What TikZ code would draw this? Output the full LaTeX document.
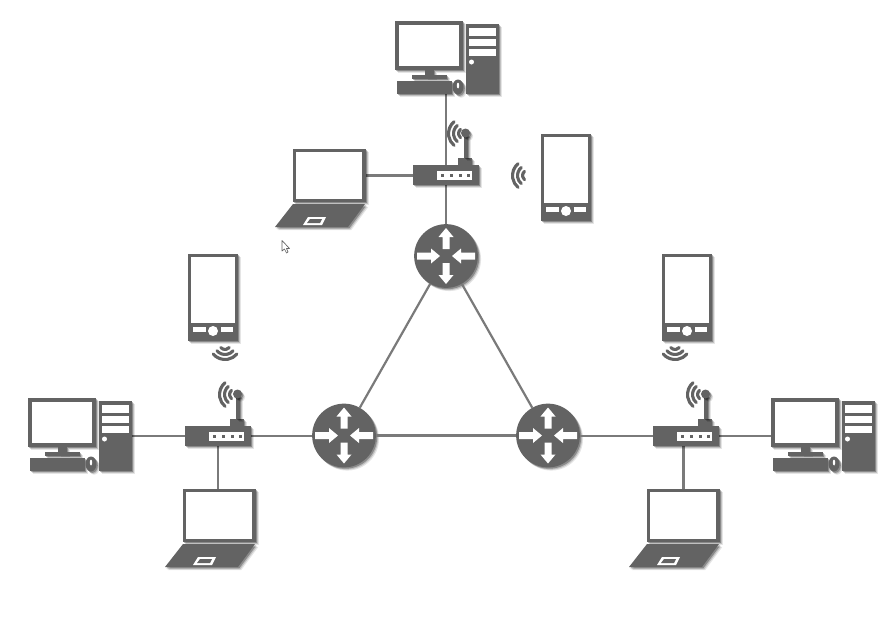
\documentclass[tikz,border=0pt]{standalone}
\usetikzlibrary{shadows}
\definecolor{icon}{HTML}{636363}
\definecolor{wire}{HTML}{7A7A7A}
\tikzset{
  softshadow/.style={drop shadow={shadow xshift=2.4pt,shadow yshift=-2.4pt,opacity=.10,fill=black},
                     drop shadow={shadow xshift=1.7pt,shadow yshift=-1.7pt,opacity=.16,fill=black},
                     drop shadow={shadow xshift=1pt,shadow yshift=-1pt,opacity=.28,fill=black}},
  body/.style={fill=icon,draw=none,softshadow},
  plain/.style={fill=icon,draw=none},
  hole/.style={fill=white,draw=none},
  wirel/.style={draw=wire,line width=1.65pt},
  anchorbox/.style={draw=none,inner sep=0pt,outer sep=0pt},
  deskbox/.style={anchorbox,minimum width=78pt,minimum height=54.75pt},
  lapbox/.style={anchorbox,minimum width=54.75pt,minimum height=39.75pt},
  phonebox/.style={anchorbox,minimum width=37.5pt,minimum height=65.25pt},
  swbox/.style={anchorbox,minimum width=49.5pt,minimum height=15pt},
  rtbox/.style={circle,anchorbox,minimum size=47.8pt,fill=icon,softshadow},
  wave/.style={draw=icon,line width=2.3pt,line cap=round},
  waveshade/.style={drop shadow={shadow xshift=.8pt,shadow yshift=-.8pt,opacity=.2,fill=none,draw=black}},
  desk/.pic={
    \path[body] (395,21) rectangle (463,70);
    \path[hole] (399,25) rectangle (459,66);
    \path[body] (425,70) rectangle (434,77);
    \path[body] (412,75) rectangle (447,79);
    \path[body] (397,81) rectangle (452,94);
    \path[body] (458,87) ellipse [x radius=5.5,y radius=7.5];
    \path[hole] (458,85.5) ellipse [x radius=1.2,y radius=3];
    \path[body] (466,24) rectangle (499,94);
    \path[hole] (469,28) rectangle (496,36);
    \path[hole] (469,38.5) rectangle (496,46);
    \path[hole] (469,49) rectangle (496,56);
    \path[hole] (471.5,62) circle [radius=2.5];
  },
  laptop/.pic={
    \path[body] (293,149) rectangle (366,202);
    \path[hole] (296,152) rectangle (362,199);
    \path[body] (293,204) -- (365,204) -- (348,227) -- (275,227) -- cycle;
    \path[hole] (308,217) -- (326,217) -- (322,225) -- (303,225) -- cycle;
    \path[plain] (310,219) -- (322,219) -- (320,223) -- (307,223) -- cycle;
  },
  phone/.pic={
    \path[body] (541,134) rectangle (591,221);
    \path[hole] (544,137) rectangle (588,203);
    \path[hole] (546,207) rectangle (559,212);
    \path[hole] (574,207) rectangle (586,212);
    \path[hole] (566,211) circle [radius=5];
  },
  switchpic/.pic={
    \path[body] (458,158) rectangle (472,165);
    \path[body] (463.5,134) rectangle (468,158);
    \path[body] (465.5,133) circle [radius=4.5];
    \path[body] (413,165) rectangle (479,185);
    \path[hole] (437,171) rectangle (472,180);
    \foreach \px in {440.5,449.5,458.5,466.5}
      \path[plain] (\px,174) rectangle ++(3,3);
  },
  wavepic/.pic={
    \foreach \rr in {5.5,10.5,15.5}
      \draw[wave,waveshade]
        (130:\rr*.75pt) arc [start angle=130,end angle=230,radius=\rr*.75pt];
  },
  wavedown/.pic={
    \foreach \rr in {5.5,10.5,15.5}
      \draw[wave,waveshade]
        (220:\rr*.75pt) arc [start angle=220,end angle=320,radius=\rr*.75pt];
  },
  arrows4/.pic={
    \path[hole] (0,-28) -- (7.5,-19) -- (3.5,-19) -- (3.5,-7) -- (-3.5,-7) -- (-3.5,-19) -- (-7.5,-19) -- cycle;
    \path[hole] (0,28) -- (7.5,19) -- (3.5,19) -- (3.5,7) -- (-3.5,7) -- (-3.5,19) -- (-7.5,19) -- cycle;
    \path[hole] (-6,0) -- (-15,-7.5) -- (-15,-3.5) -- (-29,-3.5) -- (-29,3.5) -- (-15,3.5) -- (-15,7.5) -- cycle;
    \path[hole] (6,0) -- (15,-7.5) -- (15,-3.5) -- (29,-3.5) -- (29,3.5) -- (15,3.5) -- (15,7.5) -- cycle;
  },
}
\begin{document}
\begin{tikzpicture}[x=.75pt,y=-.75pt]
\useasboundingbox (0,0) rectangle (889,629);
\fill[white] (0,0) rectangle (889,629);
% anchors
\node[deskbox] (deskT) at (447,57.5) {};
\node[deskbox] (deskL) at (80,434.5) {};
\node[deskbox] (deskR) at (823,434.5) {};
\node[lapbox] (lapT) at (329.5,175.5) {};
\node[lapbox] (lapL) at (219.5,515.5) {};
\node[lapbox] (lapR) at (683.5,515.5) {};
\node[phonebox] (phT) at (566,177.5) {};
\node[phonebox] (phL) at (213,297.5) {};
\node[phonebox] (phR) at (687,297.5) {};
\node[swbox] (swT) at (446,175) {};
\node[swbox] (swL) at (218,436) {};
\node[swbox] (swR) at (686,436) {};
\coordinate (rtTc) at (446,256);
\coordinate (rtLc) at (344,435.5);
\coordinate (rtRc) at (548,435.5);
\node[rtbox] (rtT) at (rtTc) {};
\node[rtbox] (rtL) at (rtLc) {};
\node[rtbox] (rtR) at (rtRc) {};
% connectors
\draw[wirel] (swT.north) -- (swT.north |- deskT.south);
\draw[wirel] (swT.south) -- (rtT.north);
\draw[wirel] (lapT.east) -- (lapT.east -| swT.west);
\draw[wirel] (swL.west) -- (swL.west -| deskL.east);
\draw[wirel] (swL.east) -- (swL.east -| rtL.west);
\draw[wirel] (swL.south) -- (swL.south |- lapL.north);
\draw[wirel] (swR.east) -- (swR.east -| deskR.west);
\draw[wirel] (swR.west) -- (swR.west -| rtR.east);
\draw[wirel] (lapR.north) -- (lapR.north |- swR.south);
\draw[wirel] (rtL) -- (rtR);
\draw[wirel] (rtT) -- (rtL);
\draw[wirel] (rtT) -- (rtR);
% routers
\path (rtTc) pic {arrows4};
\path (rtLc) pic {arrows4};
\path (rtRc) pic {arrows4};
% desktops
\path (0,0) pic {desk};
\path (-367,377) pic {desk};
\path (376,377) pic {desk};
% laptops
\path (0,0) pic {laptop};
\path (-110,340) pic {laptop};
\path (354,340) pic {laptop};
% phones
\path (0,0) pic {phone};
\path (-353,120) pic {phone};
\path (121,120) pic {phone};
% switches
\path (0,0) pic {switchpic};
\path (-228,261) pic {switchpic};
\path (240,261) pic {switchpic};
% wireless marks
\path (464,133.5) pic {wavepic};
\path (235,394.5) pic {wavepic};
\path (703,394.5) pic {wavepic};
\path (528,175.5) pic {wavepic};
\path (225,344) pic {wavedown};
\path (675,344) pic {wavedown};
% pointer
\path[fill=white,draw=icon,line width=.5pt,line join=round] (282,240.5) -- (282,251) -- (284.5,249) -- (286.5,253) -- (288,252) -- (286.5,248.5) -- (289.5,248.5) -- cycle;
\end{tikzpicture}
\end{document}
